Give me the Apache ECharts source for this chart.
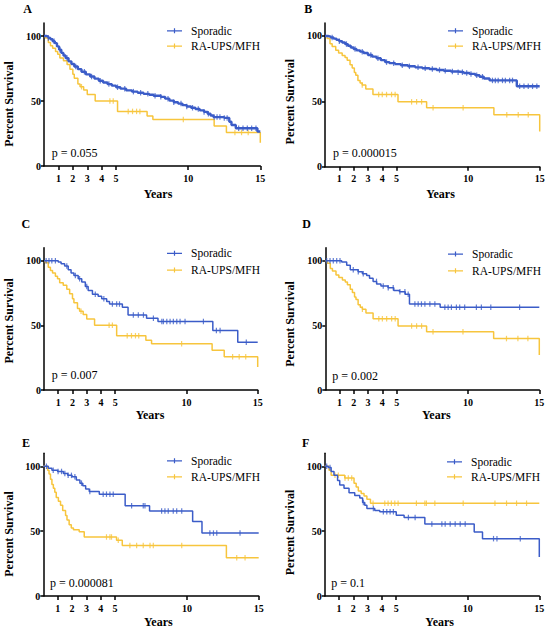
<!DOCTYPE html>
<html><head><meta charset="utf-8">
<script src="https://cdn.jsdelivr.net/npm/echarts@6/dist/echarts.min.js"></script>
<style>html,body{margin:0;padding:0;background:#fff}#c{width:547px;height:632px}</style>
</head><body><div id="c"></div>
<script>
// ---------- data ----------
const panelLetters = ['A','B','C','D','E','F'];
const pLabels = ['p = 0.055','p = 0.000015','p = 0.007','p = 0.002','p = 0.000081','p = 0.1'];
const seriesNames = ['Sporadic','RA-UPS/MFH'];
const xTickValues = [1,2,3,4,5,10,15];
const yTickValues = [0,50,100];
const xAxisTitle = 'Years';
const yAxisTitle = 'Percent Survival';

// Kaplan–Meier steps: [years, percent surviving from that time on]
const sporadicA = [[0,100],[0.15,99.5],[0.3,98.5],[0.45,97.5],[0.6,96],[0.75,94.5],[0.9,92],[1.05,89.5],[1.2,87],[1.35,85],[1.5,83],[1.7,80.5],[1.9,78.5],[2.1,76.5],[2.35,74.5],[2.6,72.5],[2.9,70.5],[3.2,68.8],[3.5,67.2],[3.8,65.6],[4.1,64.2],[4.4,63],[4.7,61.8],[5.0,60.6],[5.3,59.5],[5.7,58.2],[6.1,57.2],[6.5,56.3],[6.9,55.5],[7.3,54.8],[7.6,54],[8.1,53.2],[8.4,51.8],[8.7,50.3],[9.0,49],[9.3,48],[9.6,46.8],[9.9,45.8],[10.2,44.8],[10.5,43.8],[10.8,42.8],[11.1,41.6],[11.35,40.2],[11.55,38.8],[11.75,37.6],[12.5,37],[12.85,34],[13.0,31.5],[13.3,29],[14.8,26.5],[15,26.5]];
const raAC = [[0,100],[0.1,98.5],[0.3,95],[0.45,92.5],[0.6,90.5],[0.8,88],[0.95,86],[1.1,83],[1.35,81],[1.6,78],[1.8,74.5],[2.0,70.5],[2.1,67.5],[2.35,63],[2.5,61],[2.75,58.5],[3.0,55],[3.55,50],[5.1,42],[7.15,38.5],[7.55,35.7],[11.8,30.8],[12.65,25.8],[15,17.8]];
const sporadicB = [[0,100],[0.2,99.5],[0.4,98.8],[0.6,98],[0.8,97],[1.0,96],[1.2,95],[1.4,93.8],[1.6,92.5],[1.8,91.2],[2.0,90],[2.2,89],[2.45,88],[2.7,87],[3.0,85.5],[3.3,84.2],[3.6,83],[3.9,81.5],[4.2,80],[4.5,79.2],[4.9,78.5],[5.3,77.6],[5.8,76.8],[6.3,76],[6.8,75.3],[7.3,74.7],[7.8,74],[8.3,73.4],[8.8,72.8],[9.3,72.3],[9.7,71.7],[10.1,71],[10.5,70],[10.8,68.8],[11.1,67.5],[11.5,66],[13.4,61.5],[15,61.5]];
const raBD = [[0,100],[0.15,98],[0.35,94],[0.5,92],[0.75,89],[0.95,87],[1.2,85],[1.4,83.5],[1.55,81.5],[1.75,78],[1.9,75.5],[2.05,72],[2.15,70],[2.3,66],[2.45,64],[2.6,62.5],[2.85,59.5],[3.35,55.2],[5.1,49.6],[7.1,45],[11.8,39.8],[15,27]];
const sporadicC = [[0,100],[1.0,99],[1.2,97.7],[1.45,96],[1.7,93],[1.9,90.5],[2.1,88.5],[2.4,86],[2.65,83.5],[2.9,80],[3.1,77],[3.4,74],[3.8,72.5],[4.05,70.5],[4.4,68.5],[4.6,66.5],[5.5,64],[5.9,58],[7.2,55.5],[8.0,53],[11.85,46],[13.6,37],[15,37]];
const sporadicD = [[0,100],[1.15,99],[1.5,96.5],[1.75,93],[2.3,91.5],[2.6,90],[2.9,88.5],[3.1,86.5],[3.35,84],[3.6,82],[3.9,80.5],[4.4,79],[4.8,77],[5.2,76],[5.6,74],[5.9,66.5],[8.05,64],[15,64]];
const sporadicE = [[0,100],[0.35,98.5],[0.6,97],[1.0,96],[1.4,94.5],[1.7,93],[2.0,92],[2.3,89.5],[2.55,87],[2.75,85],[2.95,82.5],[3.2,80.5],[3.9,78.5],[5.7,69.5],[7.4,65.5],[10.4,57.5],[11.05,48.5],[15,48.5]];
const raE = [[0,100],[0.3,97],[0.4,94],[0.5,90],[0.6,86],[0.7,83],[0.8,80],[0.9,76],[1.05,73],[1.2,70],[1.35,66],[1.55,62],[1.65,58.5],[1.8,55],[1.95,52.5],[2.1,51],[2.5,49.5],[2.85,45.5],[5.1,43],[5.5,39],[12.75,29.5],[15,29.5]];
const sporadicF = [[0,100],[0.25,99],[0.45,96],[0.65,93],[0.9,89],[1.05,85.5],[1.35,83],[1.7,79.5],[2.1,77.5],[2.45,75.5],[2.65,72],[2.8,70],[2.95,67.5],[3.5,66],[3.85,65],[5.0,62.2],[5.55,60.5],[7.0,55.5],[10.45,49.3],[11.03,44.2],[15,30]];
const raF = [[0,100],[0.3,97],[0.45,93],[1.4,91],[2.05,87],[2.2,84],[2.35,81],[2.55,79],[2.75,77],[2.95,74.5],[3.2,71.5],[15,71.5]];

// censoring times (years)
const censSporadicA = [0.3,0.7,1.1,1.6,2.2,2.8,3.3,3.9,4.5,5.1,5.6,6.2,6.7,7.2,7.7,8.1,8.6,9.0,9.5,9.9,10.3,10.7,11.1,11.4,11.8,12.0,12.2,12.5,12.7,13.5,13.8,14.1,14.4,14.7];
const censRaAC = [2.6,4.57,4.8,5.84,6.14,6.42,6.65,9.66,13.24,13.7,14.16];
const censSporadicB = [0.5,1.0,1.5,2.1,2.6,3.2,3.7,4.3,4.8,5.4,5.9,6.5,7.0,7.5,8.0,8.4,8.9,9.3,9.6,9.9,10.2,10.6,11.0,11.7,11.9,12.1,12.4,12.6,12.9,13.1,13.6,13.9,14.2,14.5,14.8];
const censRaBD = [2.6,3.75,4.0,4.3,4.65,4.9,6.05,6.4,6.75,7.55,9.65,12.7,13.5,14.2];
const censSporadicC = [0.15,0.35,0.55,0.8,1.6,2.2,2.5,3.0,3.6,4.2,4.8,5.1,5.3,6.27,6.62,6.98,7.68,8.27,8.38,8.62,8.85,9.08,9.32,9.55,9.9,11.19,12.1,12.36,14.2];
const censSporadicD = [0.1,0.33,0.56,0.8,1.03,1.96,2.31,2.66,3.59,4.06,4.41,4.76,5.23,5.58,5.81,6.28,6.51,6.74,6.98,7.33,7.68,8.38,8.61,8.84,9.19,9.42,9.77,10.59,10.94,11.6,13.62];
const censSporadicE = [0.22,0.69,1.03,1.27,1.5,1.73,1.96,2.2,2.66,3.24,4.17,4.4,4.64,4.87,6.15,6.96,7.08,8.24,8.47,8.7,9.05,9.29,9.64,11.6,11.85,12.08,13.7];
const censRaE = [4.4,4.64,4.75,5.22,6.03,6.5,6.96,7.43,7.66,9.64,13.47,14.05];
const censSporadicF = [0.14,0.37,2.7,3.4,4.1,4.34,4.57,4.8,5.85,6.32,7.49,8.19,8.42,8.77,9.12,9.47,9.82,11.8,12.04,13.67];
const censRaF = [0.72,0.95,1.42,1.65,1.89,3.38,4.2,4.43,4.66,4.9,5.13,6.41,7.0,7.11,7.7,9.68,11.9,12.71,13.41,14.11];

const panelSporadic = [sporadicA, sporadicB, sporadicC, sporadicD, sporadicE, sporadicF];
const panelRa = [raAC, raBD, raAC, raBD, raE, raF];
const panelCensSporadic = [censSporadicA, censSporadicB, censSporadicC, censSporadicD, censSporadicE, censSporadicF];
const panelCensRa = [censRaAC, censRaBD, censRaAC, censRaBD, censRaE, censRaF];

// ---------- layout / style ----------
const BLUE = '#3b5cc8', YELLOW = '#f7c53d';
const FONT = '"Liberation Serif", "Times New Roman", serif';
const layout = [
  {left:44,   top:23,    width:216.3, height:143,   legL:167, legT:23.7,  legGap:1.3, letter:[27.5,9],   p:[51.7,153], years:[158,194],   ylab:[9,104]},
  {left:325,  top:22.9,  width:214.7, height:143.8, legL:448, legT:23.7,  legGap:1.3, letter:[308.3,9], p:[333,153],  years:[440.5,194.3], ylab:[289.7,101.7]},
  {left:44,   top:247.8, width:213.7, height:142.2, legL:167, legT:246.3, legGap:2.7, letter:[25.8,224], p:[51.7,375], years:[150,415],   ylab:[9,320.8]},
  {left:325.3,top:247.8, width:214,   height:142.2, legL:448, legT:247,   legGap:2.7, letter:[306.7,224],p:[332.3,375.7], years:[436.3,415], ylab:[289.7,324]},
  {left:43.3, top:453.3, width:215.4, height:142.7, legL:167, legT:453.7, legGap:2,   letter:[26,443.3], p:[50,583.3], years:[158.3,621.7], ylab:[9,534]},
  {left:324.7,top:453.3, width:214.6, height:142.7, legL:447, legT:454.7, legGap:1,   letter:[305.7,443.3], p:[331.3,583.3], years:[439.7,621.7], ylab:[289.7,532.5]}
];

function survAt(steps, t) {
  let v = steps[0][1];
  for (const s of steps) { if (s[0] <= t) v = s[1]; else break; }
  return v;
}

const grids = [], xAxes = [], yAxes = [], series = [], legends = [], graphics = [];
const legendIcon = 'path://M0,2 L15,2 L15,3.3 L0,3.3 Z M6.9,0 L8.1,0 L8.1,5 L6.9,5 Z';

layout.forEach((L, i) => {
  grids.push({left:L.left, top:L.top, width:L.width, height:L.height, containLabel:false, outerBoundsMode:'none'});
  xAxes.push({
    type:'value', gridIndex:i, min:0, max:15,
    axisLine:{show:true, onZero:false, lineStyle:{color:'#000', width:1.5}},
    axisTick:{show:true, customValues:xTickValues, length:4, lineStyle:{color:'#000', width:1.5}},
    axisLabel:{show:true, customValues:xTickValues, fontFamily:FONT, fontWeight:'bold', fontSize:10, color:'#000', margin:7},
    splitLine:{show:false}
  });
  yAxes.push({
    type:'value', gridIndex:i, min:0, max:110,
    axisLine:{show:true, onZero:false, lineStyle:{color:'#000', width:1.5}},
    axisTick:{show:true, customValues:yTickValues, length:3, lineStyle:{color:'#000', width:1.5}},
    axisLabel:{show:true, customValues:yTickValues, fontFamily:FONT, fontWeight:'bold', fontSize:10, color:'#000', margin:3},
    splitLine:{show:false}
  });
  const curves = [[seriesNames[1], panelRa[i], panelCensRa[i], YELLOW], [seriesNames[0], panelSporadic[i], panelCensSporadic[i], BLUE]];
  curves.forEach(([name, steps, cens, color], k) => {
    series.push({
      type:'line', name, xAxisIndex:i, yAxisIndex:i, data:steps, step:'end',
      showSymbol:false, symbol:'none', color, z:2+k,
      lineStyle:{color, width: (i < 2 && k === 1) ? 2.4 : 1.5}, animation:false, silent:true
    });
    series.push({
      type:'scatter', name:name + ' censored', xAxisIndex:i, yAxisIndex:i,
      data:cens.map(t => [t, survAt(steps, t)]),
      symbol:'rect', symbolSize:[1.2, 5.5], itemStyle:{color}, z:2+k, animation:false, silent:true
    });
  });
  legends.push({
    orient:'vertical', left:L.legL, top:L.legT, padding:0, itemGap:L.legGap,
    itemWidth:15, itemHeight:5, icon:legendIcon, selectedMode:false,
    data:[seriesNames[0], seriesNames[1]],
    textStyle:{fontFamily:FONT, fontSize:11.5, color:'#000', lineHeight:14, padding:[0,0,0,4]}
  });
  graphics.push({type:'text', x:L.letter[0], y:L.letter[1], style:{text:panelLetters[i], font:'bold 12px ' + FONT, fill:'#000', textAlign:'center', textVerticalAlign:'middle'}});
  graphics.push({type:'text', x:L.p[0], y:L.p[1], style:{text:pLabels[i], font:'12px ' + FONT, fill:'#000', textAlign:'left', textVerticalAlign:'middle'}});
  graphics.push({type:'text', x:L.years[0], y:L.years[1], style:{text:xAxisTitle, font:'bold 12px ' + FONT, fill:'#000', textAlign:'center', textVerticalAlign:'middle'}});
  graphics.push({type:'text', x:L.ylab[0], y:L.ylab[1], rotation:Math.PI/2, style:{text:yAxisTitle, font:'bold 12px ' + FONT, fill:'#000', textAlign:'center', textVerticalAlign:'middle'}});
});

const chart = echarts.init(document.getElementById('c'), null, {renderer:'svg', width:547, height:632});
chart.setOption({
  animation:false,
  backgroundColor:'#fff',
  grid:grids, xAxis:xAxes, yAxis:yAxes, series, legend:legends, graphic:graphics
});
</script></body></html>
